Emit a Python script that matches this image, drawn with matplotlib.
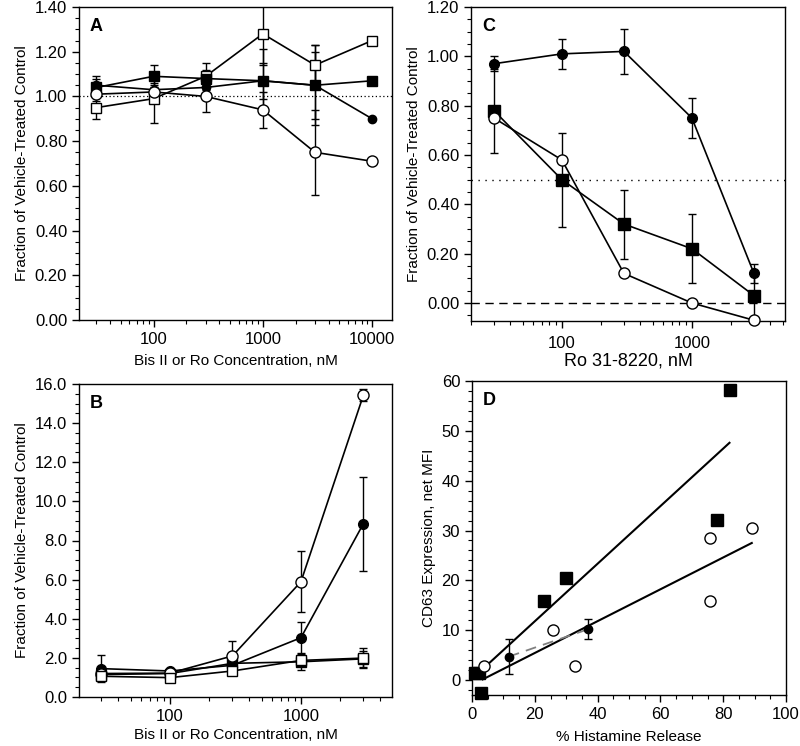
import matplotlib.pyplot as plt
import matplotlib.ticker as mticker
import numpy as np

plt.rcParams['font.family'] = ['Liberation Sans', 'DejaVu Sans']

# ---- Panel A: Bis II / Ro, fraction of control ----
conc_a = [30, 100, 300, 1000, 3000, 10000]
a_open_sq = [0.95, 0.99, 1.09, 1.28, 1.14, 1.25]
a_open_sq_err = [0.05, 0.11, 0.06, 0.14, 0.09, 0]
a_fill_sq = [1.04, 1.09, 1.08, 1.07, 1.05, 1.07]
a_fill_sq_err = [0.04, 0.05, 0.04, 0.14, 0.15, 0]
a_fill_ci = [1.05, 1.03, 1.04, 1.07, 1.05, 0.90]
a_fill_ci_err = [0.04, 0.03, 0.04, 0.08, 0.18, 0]
a_open_ci = [1.01, 1.02, 1.00, 0.94, 0.75, 0.71]
a_open_ci_err = [0.03, 0.03, 0.07, 0.08, 0.19, 0]

# ---- Panel B ----
conc_b = [30, 100, 300, 1000, 3000]
b_fill_ci = [1.45, 1.33, 1.62, 3.03, 8.86]
b_fill_ci_err = [0.7, 0.1, 0.2, 0.8, 2.4]
b_open_ci = [1.2, 1.22, 2.10, 5.89, 15.43]
b_open_ci_err = [0.2, 0.1, 0.75, 1.55, 0.3]
b_fill_sq = [1.15, 1.2, 1.72, 1.8, 1.95]
b_fill_sq_err = [0.1, 0.1, 0.1, 0.4, 0.4]
b_open_sq = [1.06, 0.99, 1.33, 1.87, 1.99]
b_open_sq_err = [0.1, 0.1, 0.1, 0.2, 0.53]

# ---- Panel C: Ro 31-8220 ----
conc_c = [30, 100, 300, 1000, 3000]
c_fill_ci = [0.97, 1.01, 1.02, 0.75, 0.12]
c_fill_ci_err = [0.03, 0.06, 0.09, 0.08, 0.04]
c_fill_sq = [0.78, 0.50, 0.32, 0.22, 0.03]
c_fill_sq_err = [0.17, 0.19, 0.14, 0.14, 0.1]
c_open_ci = [0.75, 0.58, 0.12, 0.0, -0.07]

# ---- Panel D: CD63 vs histamine release ----
d_sq_x = [1.0, 2.2, 2.9, 22.8, 29.8, 78.0, 82.1]
d_sq_y = [1.5, 1.5, -2.5, 15.8, 20.5, 32.1, 58.1]
d_oc_x = [3.7, 25.8, 32.9, 75.8, 75.8, 89.1]
d_oc_y = [2.8, 10.0, 2.8, 28.4, 15.8, 30.5]
d_fc_x = [11.7, 37.0]
d_fc_y = [4.7, 10.2]
d_fc_err = [3.5, 2.0]
fit_sq_x = [4.0, 82.0]
fit_sq_y = [2.55, 47.6]
fit_oc_x = [3.4, 89.1]
fit_oc_y = [0.13, 27.5]

W, H = 800, 746
fig = plt.figure(figsize=(W / 100, H / 100), dpi=100)


def box(l, t, r, b):
    return [l / W, 1 - b / H, (r - l) / W, (b - t) / H]


axA = fig.add_axes(box(79, 7, 392, 320))
axC = fig.add_axes(box(471, 7, 785, 321))
axB = fig.add_axes(box(79, 384, 392, 697))
axD = fig.add_axes(box(472, 381, 786, 695))

lw = 1.2


def series(ax, x, y, err, marker, fill, ms, z=3):
    fc = 'black' if fill else 'white'
    if err is not None:
        ax.errorbar(x, y, yerr=err, fmt='none', ecolor='black', elinewidth=1,
                    capsize=3, capthick=1, zorder=z - 1)
    ax.plot(x, y, color='black', lw=lw, marker=marker, ms=ms, mfc=fc,
            mec='black', mew=1, zorder=z, clip_on=False)


def style(ax):
    for s in ax.spines.values():
        s.set_linewidth(1)
    ax.tick_params(which='both', direction='out', top=False, right=False,
                   labelsize=12)
    ax.tick_params(which='major', length=5, width=1)
    ax.tick_params(which='minor', length=3, width=0.8)


def logfmt(ax):
    ax.xaxis.set_major_formatter(mticker.FuncFormatter(lambda v, p: f"{v:g}"))
    ax.xaxis.set_minor_formatter(mticker.NullFormatter())


# Panel A
axA.set_xscale('log')
axA.axhline(1.0, color='black', lw=0.9, ls=(0, (1, 2)), zorder=1)
series(axA, conc_a, a_open_sq, a_open_sq_err, 's', False, 7)
series(axA, conc_a, a_fill_sq, a_fill_sq_err, 's', True, 7)
series(axA, conc_a, a_fill_ci, a_fill_ci_err, 'o', True, 6)
series(axA, conc_a, a_open_ci, a_open_ci_err, 'o', False, 8)
axA.set_xlim(20.8, 15200)
axA.set_ylim(0, 1.40)
axA.yaxis.set_major_locator(mticker.MultipleLocator(0.2))
axA.yaxis.set_minor_locator(mticker.MultipleLocator(0.05))
axA.yaxis.set_major_formatter(mticker.FormatStrFormatter('%.2f'))
logfmt(axA)
style(axA)
axA.set_xlabel('Bis II or Ro Concentration, nM', fontsize=11, labelpad=5)
axA.set_ylabel('Fraction of Vehicle-Treated Control', fontsize=11)
axA.text(0.035, 0.965, 'A', transform=axA.transAxes, fontsize=13,
         fontweight='bold', va='top')

# Panel B
axB.set_xscale('log')
series(axB, conc_b, b_fill_sq, b_fill_sq_err, 's', True, 7)
series(axB, conc_b, b_fill_ci, b_fill_ci_err, 'o', True, 7)
series(axB, conc_b, b_open_ci, b_open_ci_err, 'o', False, 8)
series(axB, conc_b, b_open_sq, b_open_sq_err, 's', False, 7)
axB.set_xlim(20.2, 4960)
axB.set_ylim(0, 16.0)
axB.yaxis.set_major_locator(mticker.MultipleLocator(2))
axB.yaxis.set_minor_locator(mticker.MultipleLocator(0.5))
axB.yaxis.set_major_formatter(mticker.FormatStrFormatter('%.1f'))
logfmt(axB)
style(axB)
axB.set_xlabel('Bis II or Ro Concentration, nM', fontsize=11, labelpad=3)
axB.set_ylabel('Fraction of Vehicle-Treated Control', fontsize=11)
axB.text(0.035, 0.965, 'B', transform=axB.transAxes, fontsize=13,
         fontweight='bold', va='top')

# Panel C
axC.set_xscale('log')
axC.axhline(0.5, color='black', lw=1, ls=(0, (1, 4)), zorder=1)
axC.axhline(0.0, color='black', lw=1, ls=(0, (6, 4)), zorder=1)
series(axC, conc_c, c_fill_ci, c_fill_ci_err, 'o', True, 7)
series(axC, conc_c, c_fill_sq, c_fill_sq_err, 's', True, 8)
series(axC, conc_c, c_open_ci, None, 'o', False, 8)
axC.set_xlim(20, 5200)
axC.set_ylim(-0.073, 1.20)
axC.yaxis.set_major_locator(mticker.MultipleLocator(0.2))
axC.yaxis.set_minor_locator(mticker.MultipleLocator(0.05))
axC.yaxis.set_major_formatter(mticker.FormatStrFormatter('%.2f'))
logfmt(axC)
style(axC)
axC.tick_params(axis='x', which='major', pad=6)
axC.set_xlabel('Ro 31-8220, nM', fontsize=13, labelpad=1)
axC.set_ylabel('Fraction of Vehicle-Treated Control', fontsize=11)
axC.text(0.035, 0.965, 'C', transform=axC.transAxes, fontsize=13,
         fontweight='bold', va='top')

# Panel D
axD.plot(fit_sq_x, fit_sq_y, color='black', lw=1.5, zorder=2)
axD.plot(fit_oc_x, fit_oc_y, color='black', lw=1.5, zorder=2)
axD.plot(d_fc_x, d_fc_y, color='gray', lw=1.3, ls=(0, (6, 4)), zorder=2)
axD.errorbar(d_fc_x, d_fc_y, yerr=d_fc_err, fmt='o', color='black', ms=6,
             elinewidth=1, capsize=3, capthick=1, zorder=4)
axD.plot(d_sq_x, d_sq_y, 's', color='black', ms=8, ls='none', zorder=3,
         clip_on=False)
axD.plot(d_oc_x, d_oc_y, 'o', mfc='white', mec='black', mew=1, ms=8,
         ls='none', zorder=3)
axD.set_xlim(0, 100)
axD.set_ylim(-3, 60)
axD.xaxis.set_major_locator(mticker.MultipleLocator(20))
axD.xaxis.set_minor_locator(mticker.MultipleLocator(5))
axD.yaxis.set_major_locator(mticker.MultipleLocator(10))
axD.yaxis.set_minor_locator(mticker.MultipleLocator(2))
style(axD)
axD.set_xlabel('% Histamine Release', fontsize=11, labelpad=6)
axD.set_ylabel('CD63 Expression, net MFI', fontsize=11)
axD.text(0.035, 0.965, 'D', transform=axD.transAxes, fontsize=13,
         fontweight='bold', va='top')

fig.savefig('out.png', dpi=100)
